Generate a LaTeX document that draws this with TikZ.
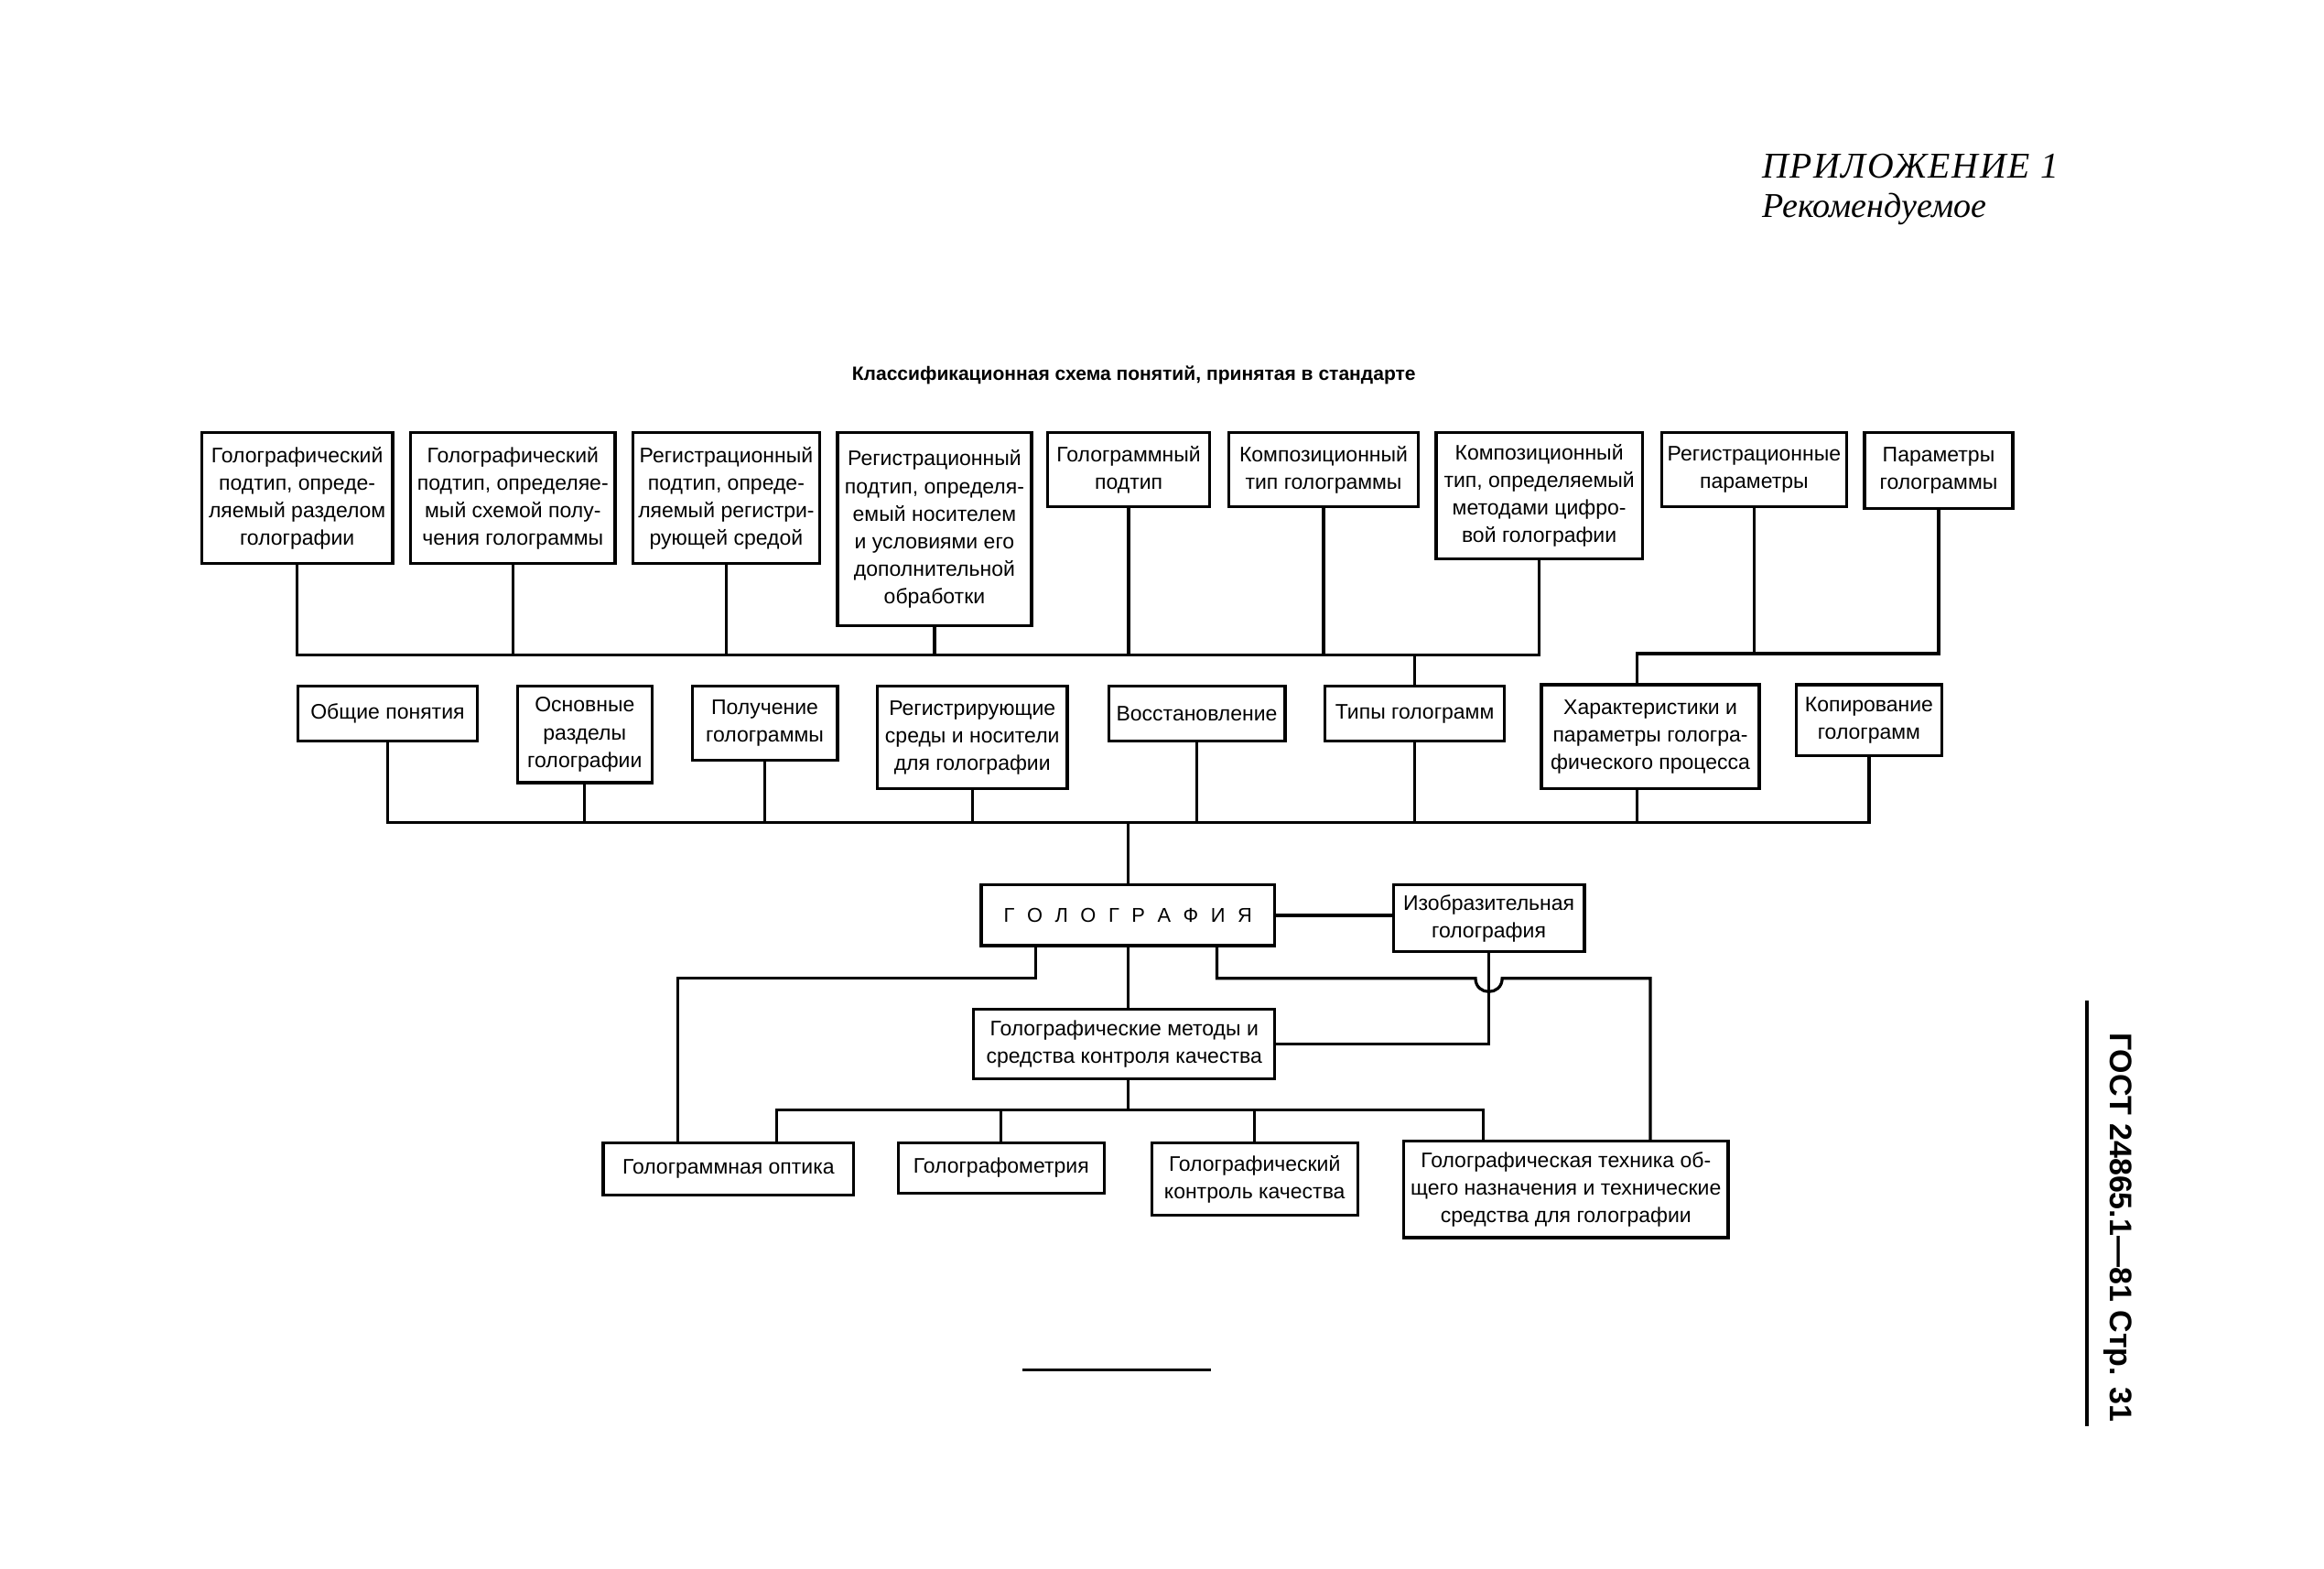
\documentclass[tikz,border=0pt]{standalone}
\usepackage{fontspec}
\setmainfont{Liberation Sans}
\newfontfamily\serifit{Liberation Serif}
\usetikzlibrary{calc}

\tikzset{
  box/.style={draw, line width=2pt, inner sep=1pt, align=center,
    font=\fontsize{14.2}{18.6}\selectfont},
  conn/.style={line width=2pt},
}
\newcommand{\mybox}[6]{\node[box, minimum width={(#4-#2)*1pt}, minimum height={(#5-#3)*1pt}] (#1) at ({(#2+#4)/2},{(#3+#5)/2}) {#6};}
\newcommand{\lsp}{\hspace{0.62em}}

\begin{document}
\begin{tikzpicture}[x=1pt,y=-1pt]
\fill[white] (0,0) rectangle (1568,1058);
\useasboundingbox (0,0) rectangle (1568,1058);

% header
\node[anchor=west, inner sep=0pt, font=\serifit\itshape\fontsize{24.5}{28}\selectfont\addfontfeatures{LetterSpace=4}] (app) at (1189,112) {ПРИЛОЖЕНИЕ 1};
\node[anchor=west, inner sep=0pt, font=\serifit\itshape\fontsize{23.5}{28}\selectfont] (rec) at (1189,141) {Рекомендуемое};

\node[font=\bfseries\fontsize{13}{15}\selectfont] (title) at (765,253) {Классификационная схема понятий, принятая в стандарте};

% top row
\mybox{t1}{136}{292}{265}{380}{Голографический\\подтип, опреде-\\ляемый разделом\\голографии}
\mybox{t2}{277}{292}{415}{380}{Голографический\\подтип, определяе-\\мый схемой полу-\\чения голограммы}
\mybox{t3}{427}{292}{553}{380}{Регистрационный\\подтип, опреде-\\ляемый регистри-\\рующей средой}
\mybox{t4}{565}{292}{696}{422}{Регистрационный\\подтип, определя-\\емый носителем\\и условиями его\\дополнительной\\обработки}
\mybox{t5}{707}{292}{816}{342}{Голограммный\\подтип}
\mybox{t6}{829}{292}{957}{342}{Композиционный\\тип голограммы}
\mybox{t7}{969}{292}{1108}{377}{Композиционный\\тип, определяемый\\методами цифро-\\вой голографии}
\mybox{t8}{1121}{292}{1246}{342}{Регистрационные\\параметры}
\mybox{t9}{1258}{292}{1358}{343}{Параметры\\голограммы}

% middle row
\mybox{m1}{201}{463}{322}{500}{Общие понятия}
\mybox{m2}{349}{463}{440}{528}{Основные\\разделы\\голографии}
\mybox{m3}{467}{463}{565}{513}{Получение\\голограммы}
\mybox{m4}{592}{463}{720}{532}{Регистрирующие\\среды и носители\\для голографии}
\mybox{m5}{748}{463}{867}{500}{Восстановление}
\mybox{m6}{894}{463}{1015}{500}{Типы голограмм}
\mybox{m7}{1040}{462}{1187}{532}{Характеристики и\\параметры гологра-\\фического процесса}
\mybox{m8}{1212}{462}{1310}{510}{Копирование\\голограмм}

% centre
\mybox{g}{662}{597}{860}{638}{\fontsize{13.5}{18}\selectfont Г\lsp О\lsp Л\lsp О\lsp Г\lsp Р\lsp А\lsp Ф\lsp И\lsp Я}
\mybox{iz}{940}{597}{1069}{642}{Изобразительная\\голография}
\mybox{gm}{657}{681}{860}{728}{Голографические методы и\\средства контроля качества}

% bottom row
\mybox{b1}{407}{771}{576}{806}{Голограммная оптика}
\mybox{b2}{606}{771}{745}{805}{Голографометрия}
\mybox{b3}{777}{771}{916}{820}{Голографический\\контроль качества}
\mybox{b4}{947}{770}{1166}{835}{Голографическая техника об-\\щего назначения и технические\\средства для голографии}

% bus levels
\coordinate (tbus) at (0,442);
\coordinate (rbus) at (0,441);
\coordinate (mbus) at (0,555);
\coordinate (hy) at (0,660);
\coordinate (bbus) at (0,749);

% top bus
\draw[conn] (t1.south) -- (t1.south |- tbus) -- (t7.south |- tbus) -- (t7.south);
\foreach \n in {t2,t3,t4,t5,t6} \draw[conn] (\n.south) -- (\n.south |- tbus);
\draw[conn] (m6.north) -- (m6.north |- tbus);

\coordinate (m7n) at ($(m7.north west)!0.44!(m7.north east)$);
\coordinate (m7s) at ($(m7.south west)!0.44!(m7.south east)$);
\draw[conn] (t8.south) -- (t8.south |- rbus);
\draw[conn] (m7n) -- (m7n |- rbus) -- (t9.south |- rbus) -- (t9.south);

% middle bus
\draw[conn] (m1.south) -- (m1.south |- mbus) -- (m8.south |- mbus) -- (m8.south);
\foreach \n in {m2,m3,m4,m5} \draw[conn] (\n.south) -- (\n.south |- mbus);
\draw[conn] (m6.south) -- (m6.south |- mbus);
\draw[conn] (m7s) -- (m7s |- mbus);
\draw[conn] (g.north) -- (g.north |- mbus);

% centre connections
\draw[conn] (g.east) -- (g.east -| iz.west);
\coordinate (gl) at ($(g.south west)!0.19!(g.south east)$);
\coordinate (gr) at ($(g.south west)!0.80!(g.south east)$);
\coordinate (b1l) at ($(b1.north west)!0.30!(b1.north east)$);
\coordinate (b1r) at ($(b1.north west)!0.69!(b1.north east)$);
\coordinate (b4l) at ($(b4.north west)!0.247!(b4.north east)$);
\coordinate (b4r) at ($(b4.north west)!0.758!(b4.north east)$);
\draw[conn] (gl) -- (gl |- hy) -- (b1l |- hy) -- (b1l);
\draw[conn] (gr) -- (gr |- hy) -- ($(iz.south |- hy)+(-9,0)$) .. controls +(0,12) and +(0,12) .. ($(iz.south |- hy)+(9,0)$) -- (b4r |- hy) -- (b4r);
\draw[conn] (iz.south) |- (gm.east);
\draw[conn] (g.south) -- (g.south |- gm.north);
\draw[conn] (g.south |- gm.south) -- (g.south |- bbus);
\draw[conn] (b1r) -- (b1r |- bbus) -- (b4l |- bbus) -- (b4l);
\draw[conn] (b2.north) -- (b2.north |- bbus);
\draw[conn] (b3.north) -- (b3.north |- bbus);

% page marks
\coordinate (vl1) at (1408,675);
\coordinate (vl2) at (1408,962);
\draw[line width=2pt] (vl1) -- (vl2);
\node[rotate=-90, font=\bfseries\fontsize{21}{24}\selectfont] (gost) at (1429,828) {ГОСТ 24865.1—81 Стр. 31};
\coordinate (hl1) at (690,924);
\coordinate (hl2) at (817,924);
\draw[line width=2pt] (hl1) -- (hl2);
\end{tikzpicture}
\end{document}
